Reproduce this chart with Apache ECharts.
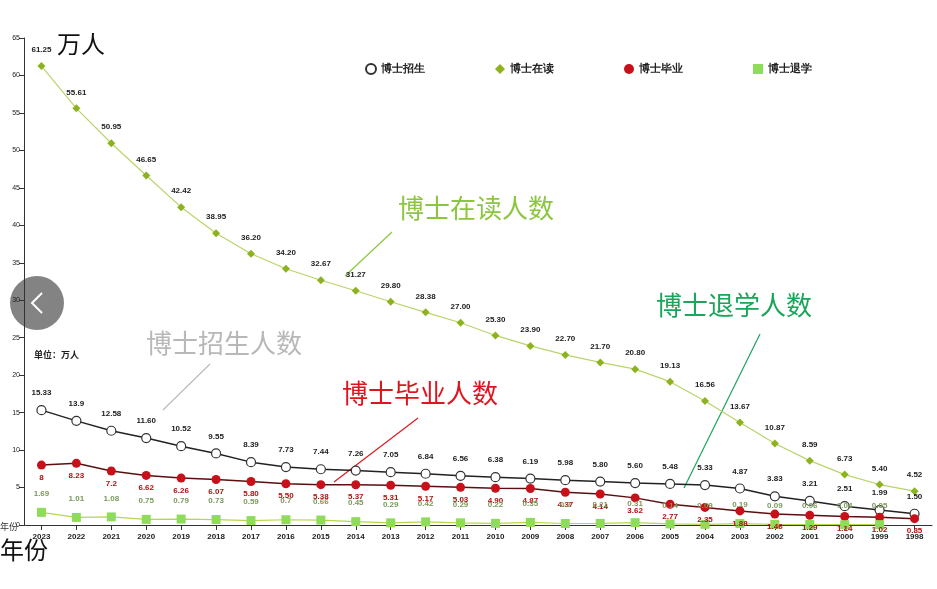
<!DOCTYPE html>
<html><head><meta charset="utf-8">
<script src="https://cdn.jsdelivr.net/npm/echarts@6/dist/echarts.min.js"></script>
<style>html,body{margin:0;background:#fff}#c{width:937px;height:589px}</style>
</head><body><div id="c"></div>
<script>
const years=['2023','2022','2021','2020','2019','2018','2017','2016','2015','2014','2013','2012','2011','2010','2009','2008','2007','2006','2005','2004','2003','2002','2001','2000','1999','1998'];
const recruit=['15.33','13.9','12.58','11.60','10.52','9.55','8.39','7.73','7.44','7.26','7.05','6.84','6.56','6.38','6.19','5.98','5.80','5.60','5.48','5.33','4.87','3.83','3.21','2.51','1.99','1.50'];
const enrolled=['61.25','55.61','50.95','46.65','42.42','38.95','36.20','34.20','32.67','31.27','29.80','28.38','27.00','25.30','23.90','22.70','21.70','20.80','19.13','16.56','13.67','10.87','8.59','6.73','5.40','4.52'];
const graduated=['8','8.23','7.2','6.62','6.26','6.07','5.80','5.50','5.38','5.37','5.31','5.17','5.03','4.90','4.87','4.37','4.14','3.62','2.77','2.35','1.88','1.46','1.29','1.14','1.02','0.85'];
const dropout=['1.69','1.01','1.08','0.75','0.79','0.73','0.59','0.7','0.66','0.45','0.29','0.42','0.29','0.22','0.35','0.2','0.21','0.31','0.14','0.09','0.19','0.09','0.06','0.04','0.05',null];
const lab=(c,off)=>({show:true,position:'top',distance:off||6,fontSize:8,fontWeight:'bold',color:c,formatter:p=>p.value});
const ch=echarts.init(document.getElementById('c'));
ch.setOption({
 animation:false,
 grid:{left:24,right:5,top:38,bottom:64},
 legend:{top:58,left:360,itemGap:70,textStyle:{fontSize:11,fontWeight:'bold',color:'#222'},itemWidth:10,itemHeight:10,
   data:[{name:'博士招生',icon:'circle'},{name:'博士在读',icon:'diamond'},{name:'博士毕业',icon:'circle'},{name:'博士退学',icon:'rect'}]},
 xAxis:{type:'category',data:years,axisLine:{lineStyle:{color:'#333'}},axisTick:{show:true,alignWithLabel:true},
   axisLabel:{fontSize:8,fontWeight:'bold',color:'#222'}},
 yAxis:{type:'value',min:0,max:65,interval:5,splitLine:{show:false},axisLine:{show:true,lineStyle:{color:'#333'}},
   axisTick:{show:true},axisLabel:{fontSize:7,color:'#222',margin:4}},
 series:[
  {name:'博士招生',type:'line',data:recruit,symbol:'circle',symbolSize:9,itemStyle:{color:'#fff',borderColor:'#333',borderWidth:1.2},lineStyle:{color:'#222',width:1.5},label:lab('#222',8)},
  {name:'博士在读',type:'line',data:enrolled,symbol:'diamond',symbolSize:8,itemStyle:{color:'#8cb21e'},lineStyle:{color:'#b9d46a',width:1.2},label:lab('#222',8)},
  {name:'博士毕业',type:'line',data:graduated,symbol:'circle',symbolSize:9,itemStyle:{color:'#c8101a'},lineStyle:{color:'#5a1010',width:1.5},label:{show:true,position:'bottom',distance:4,fontSize:8,fontWeight:'bold',color:'#b01010',formatter:p=>p.value}},
  {name:'博士退学',type:'line',data:dropout,symbol:'rect',symbolSize:9,itemStyle:{color:'#8fdc5a'},lineStyle:{color:'#b5d84a',width:1.2},label:lab('#7a9a5a',10)}
 ],
 graphic:[
  {type:'text',left:57,top:32,style:{text:'万人',font:'24px "Noto Sans CJK SC"',fill:'#111'}},
  {type:'text',left:0,top:538,style:{text:'年份',font:'24px "Noto Sans CJK SC"',fill:'#111'}},
  {type:'text',left:0,top:522,style:{text:'年份',font:'9px "Noto Sans CJK SC"',fill:'#333'}},
  {type:'text',left:34,top:350,style:{text:'单位：万人',font:'bold 9px "Noto Sans CJK SC"',fill:'#222'}},
  {type:'text',left:398,top:195,style:{text:'博士在读人数',font:'26px "Noto Sans CJK SC"',fill:'#8cc63f'}},
  {type:'text',left:146,top:330,style:{text:'博士招生人数',font:'26px "Noto Sans CJK SC"',fill:'#b8b8b8'}},
  {type:'text',left:342,top:380,style:{text:'博士毕业人数',font:'26px "Noto Sans CJK SC"',fill:'#e0141e'}},
  {type:'text',left:656,top:292,style:{text:'博士退学人数',font:'26px "Noto Sans CJK SC"',fill:'#1aa55a'}},
  {type:'line',shape:{x1:392,y1:232,x2:345,y2:276},style:{stroke:'#8cc63f',lineWidth:1.2}},
  {type:'line',shape:{x1:210,y1:364,x2:163,y2:410},style:{stroke:'#bbb',lineWidth:1.2}},
  {type:'line',shape:{x1:418,y1:418,x2:334,y2:482},style:{stroke:'#e0141e',lineWidth:1.2}},
  {type:'line',shape:{x1:760,y1:334,x2:684,y2:488},style:{stroke:'#1aa55a',lineWidth:1.2}},
  {type:'circle',shape:{cx:37,cy:303,r:27},style:{fill:'rgba(90,90,90,0.75)'}},
  {type:'polyline',shape:{points:[[42,293],[32,303],[42,313]]},style:{stroke:'#fff',lineWidth:2,fill:null}}
 ]
});
</script></body></html>
